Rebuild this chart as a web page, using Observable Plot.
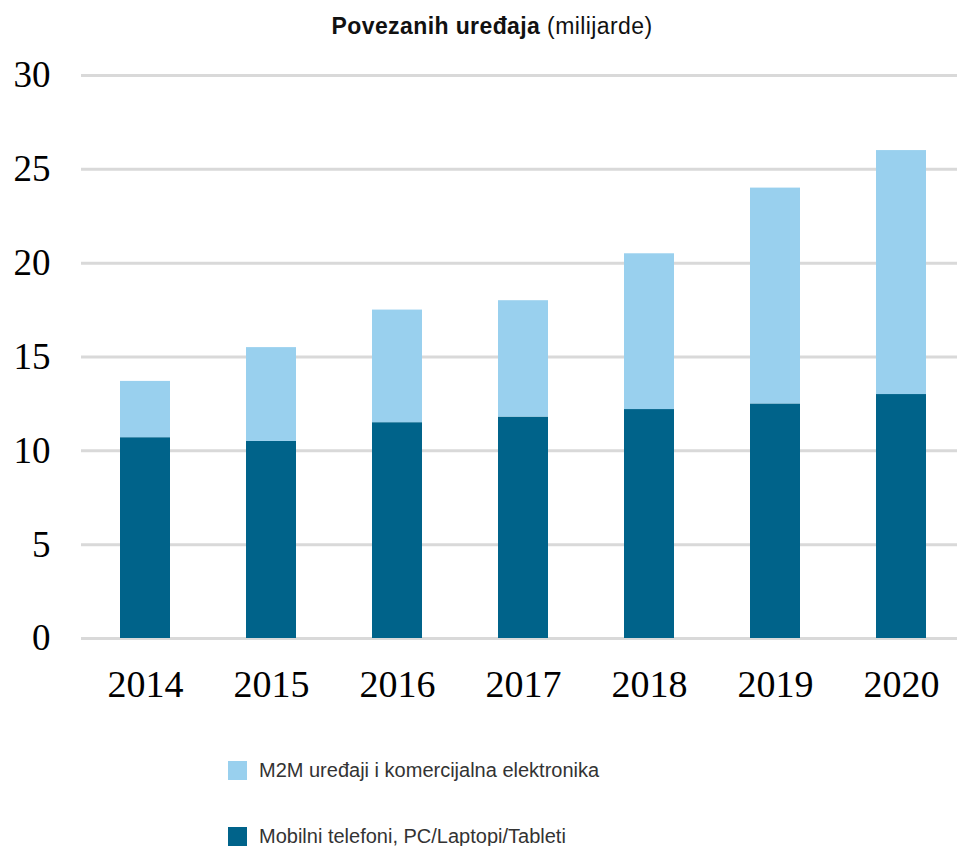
<!DOCTYPE html>
<html><head><meta charset="utf-8">
<script src="https://cdn.jsdelivr.net/npm/d3@7"></script>
<script src="https://cdn.jsdelivr.net/npm/@observablehq/plot@0.6"></script>
<style>
body{margin:0;background:#fff;width:957px;height:846px;position:relative;overflow:hidden;font-family:"Liberation Sans",Arial,sans-serif}
#title{position:absolute;left:27px;top:13px;width:930px;text-align:center;font-size:23px;letter-spacing:0.4px;line-height:26px;color:#111}
#chart{position:absolute;left:0;top:50px}
.leg{position:absolute;left:228px;height:24px;display:flex;align-items:center;font-size:20px;color:#333}
.sw{width:19px;height:19px;margin-right:12px}
</style>
</head><body>
<div id="title"><b>Povezanih uređaja</b> (milijarde)</div>
<div id="chart"></div>
<div id="legend"></div>
<script>
const years = ["2014","2015","2016","2017","2018","2019","2020"];
const mobile = [10.7, 10.5, 11.5, 11.8, 12.2, 12.5, 13.0];
const m2m = [3.0, 5.0, 6.0, 6.2, 8.3, 11.5, 13.0];
const seriesNames = ["Mobilni telefoni, PC/Laptopi/Tableti", "M2M uređaji i komercijalna elektronika"];
const colors = ["#00638a", "#99d0ee"];
const yTicks = [0, 5, 10, 15, 20, 25, 30];

const data = [
  ...years.map((y, i) => ({year: y, series: seriesNames[0], value: mobile[i]})),
  ...years.map((y, i) => ({year: y, series: seriesNames[1], value: m2m[i]}))
];

const plot = Plot.plot({
  width: 957,
  height: 680,
  marginTop: 25,
  marginBottom: 92,
  marginLeft: 81,
  marginRight: 0,
  style: {fontFamily: "'Liberation Serif', 'Times New Roman', serif", fontSize: "37px", color: "#000", background: "transparent"},
  x: {domain: years, range: [81, 965], paddingInner: 0.6, paddingOuter: 0.3, label: null},
  y: {domain: [0, 30], label: null},
  color: {domain: seriesNames, range: colors},
  marks: [
    Plot.ruleY(yTicks, {stroke: "#d9d9d9", strokeWidth: 3}),
    Plot.barY(data, Plot.stackY({x: "year", y: "value", fill: "series", order: seriesNames})),
    Plot.axisY(yTicks, {tickSize: 0, tickPadding: 31, fontSize: 37, label: null}),
    Plot.axisX({tickSize: 0, tickPadding: 32, fontSize: 38, label: null})
  ]
});
document.getElementById("chart").appendChild(plot);

const legendItems = [
  {name: seriesNames[1], color: colors[1], top: 758},
  {name: seriesNames[0], color: colors[0], top: 824}
];
const leg = document.getElementById("legend");
for (const it of legendItems) {
  const row = document.createElement("div");
  row.className = "leg";
  row.style.top = it.top + "px";
  const sw = document.createElement("span");
  sw.className = "sw";
  sw.style.background = it.color;
  const tx = document.createElement("span");
  tx.textContent = it.name;
  row.appendChild(sw);
  row.appendChild(tx);
  leg.appendChild(row);
}
</script>
</body></html>
